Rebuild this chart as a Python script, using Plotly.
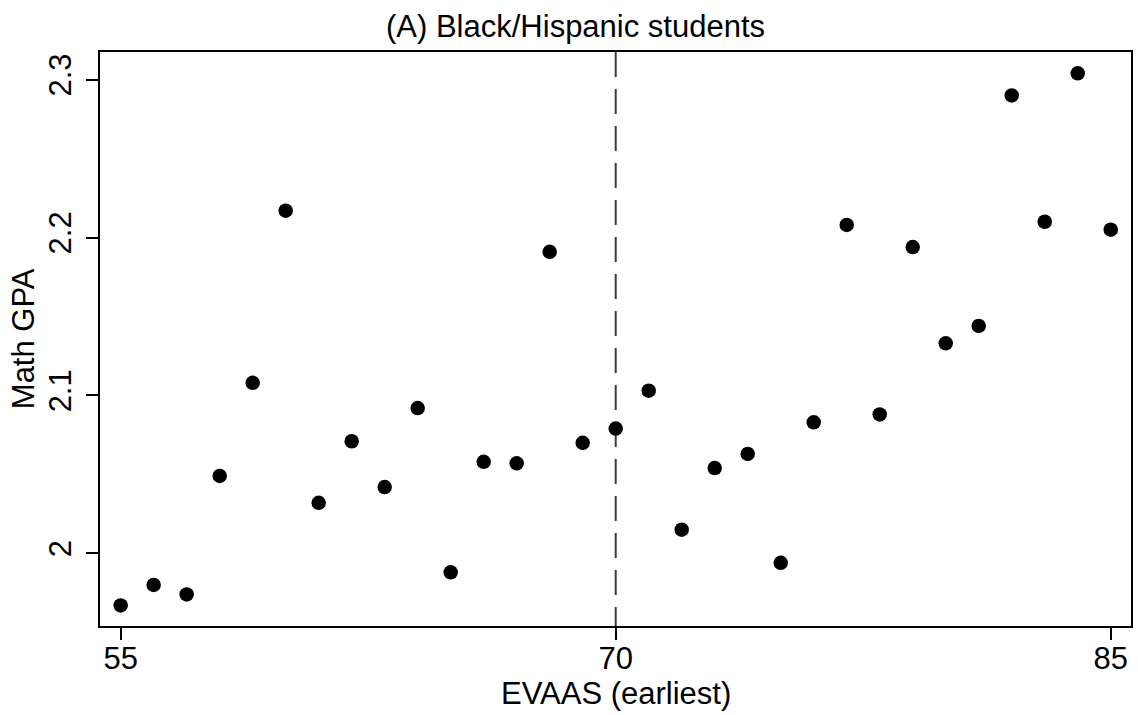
import plotly.graph_objects as go

# EVAAS score bins (earliest) and mean math GPA per bin
evaas = [55, 56, 57, 58, 59, 60, 61, 62, 63, 64, 65, 66, 67, 68, 69, 70,
         71, 72, 73, 74, 75, 76, 77, 78, 79, 80, 81, 82, 83, 84, 85]
math_gpa = [1.967, 1.980, 1.974, 2.049, 2.108, 2.217, 2.032, 2.071, 2.042, 2.092,
            1.988, 2.058, 2.057, 2.191, 2.070, 2.079, 2.103, 2.015, 2.054, 2.063,
            1.994, 2.083, 2.208, 2.088, 2.194, 2.133, 2.144, 2.290, 2.210, 2.304,
            2.205]

CUTOFF = 70
x_ticks = [55, 70, 85]
y_ticks = [2.0, 2.1, 2.2, 2.3]
y_tick_text = ["2", "2.1", "2.2", "2.3"]

FONT = "Liberation Sans, Arial, Helvetica, sans-serif"
FS = 31

fig = go.Figure()
fig.add_trace(go.Scatter(
    x=evaas, y=math_gpa, mode="markers",
    marker=dict(color="black", size=14.5, line=dict(width=0)),
    showlegend=False, hoverinfo="x+y",
))

fig.add_shape(type="line", xref="x", yref="paper", x0=CUTOFF, x1=CUTOFF, y0=1, y1=0,
              line=dict(color="#3a3a3a", width=2, dash="25px,12px"), layer="below")

axis_common = dict(
    showline=True, linecolor="black", linewidth=2, mirror=True,
    ticks="outside", ticklen=12, tickwidth=2, tickcolor="black",
    showgrid=False, zeroline=False,
    tickfont=dict(family=FONT, size=FS, color="black"),
)

fig.update_xaxes(range=[54.374, 85.614], tickvals=x_ticks, ticklabelstandoff=-8,
                 **axis_common)
fig.update_yaxes(range=[1.954, 2.3175], tickvals=y_ticks, ticktext=y_tick_text,
                 tickangle=-90, ticklabelstandoff=3, **axis_common)

fig.add_annotation(text="(A) Black/Hispanic students", xref="paper", yref="paper",
                   x=0.4608, y=1.045, showarrow=False, xanchor="center", yanchor="middle",
                   font=dict(family=FONT, size=FS, color="black"))
fig.add_annotation(text="EVAAS (earliest)", xref="paper", yref="paper",
                   x=0.5, y=-0.118, showarrow=False, xanchor="center", yanchor="middle",
                   font=dict(family=FONT, size=FS, color="black"))
fig.add_annotation(text="Math GPA", xref="paper", yref="paper",
                   x=-0.0745, y=0.5, showarrow=False, xanchor="center", yanchor="middle",
                   textangle=-90, font=dict(family=FONT, size=FS, color="black"))

fig.update_layout(
    width=1138, height=715,
    margin=dict(l=100, r=5, t=52, b=89),
    paper_bgcolor="white", plot_bgcolor="white",
)

fig.write_html("out.html")
